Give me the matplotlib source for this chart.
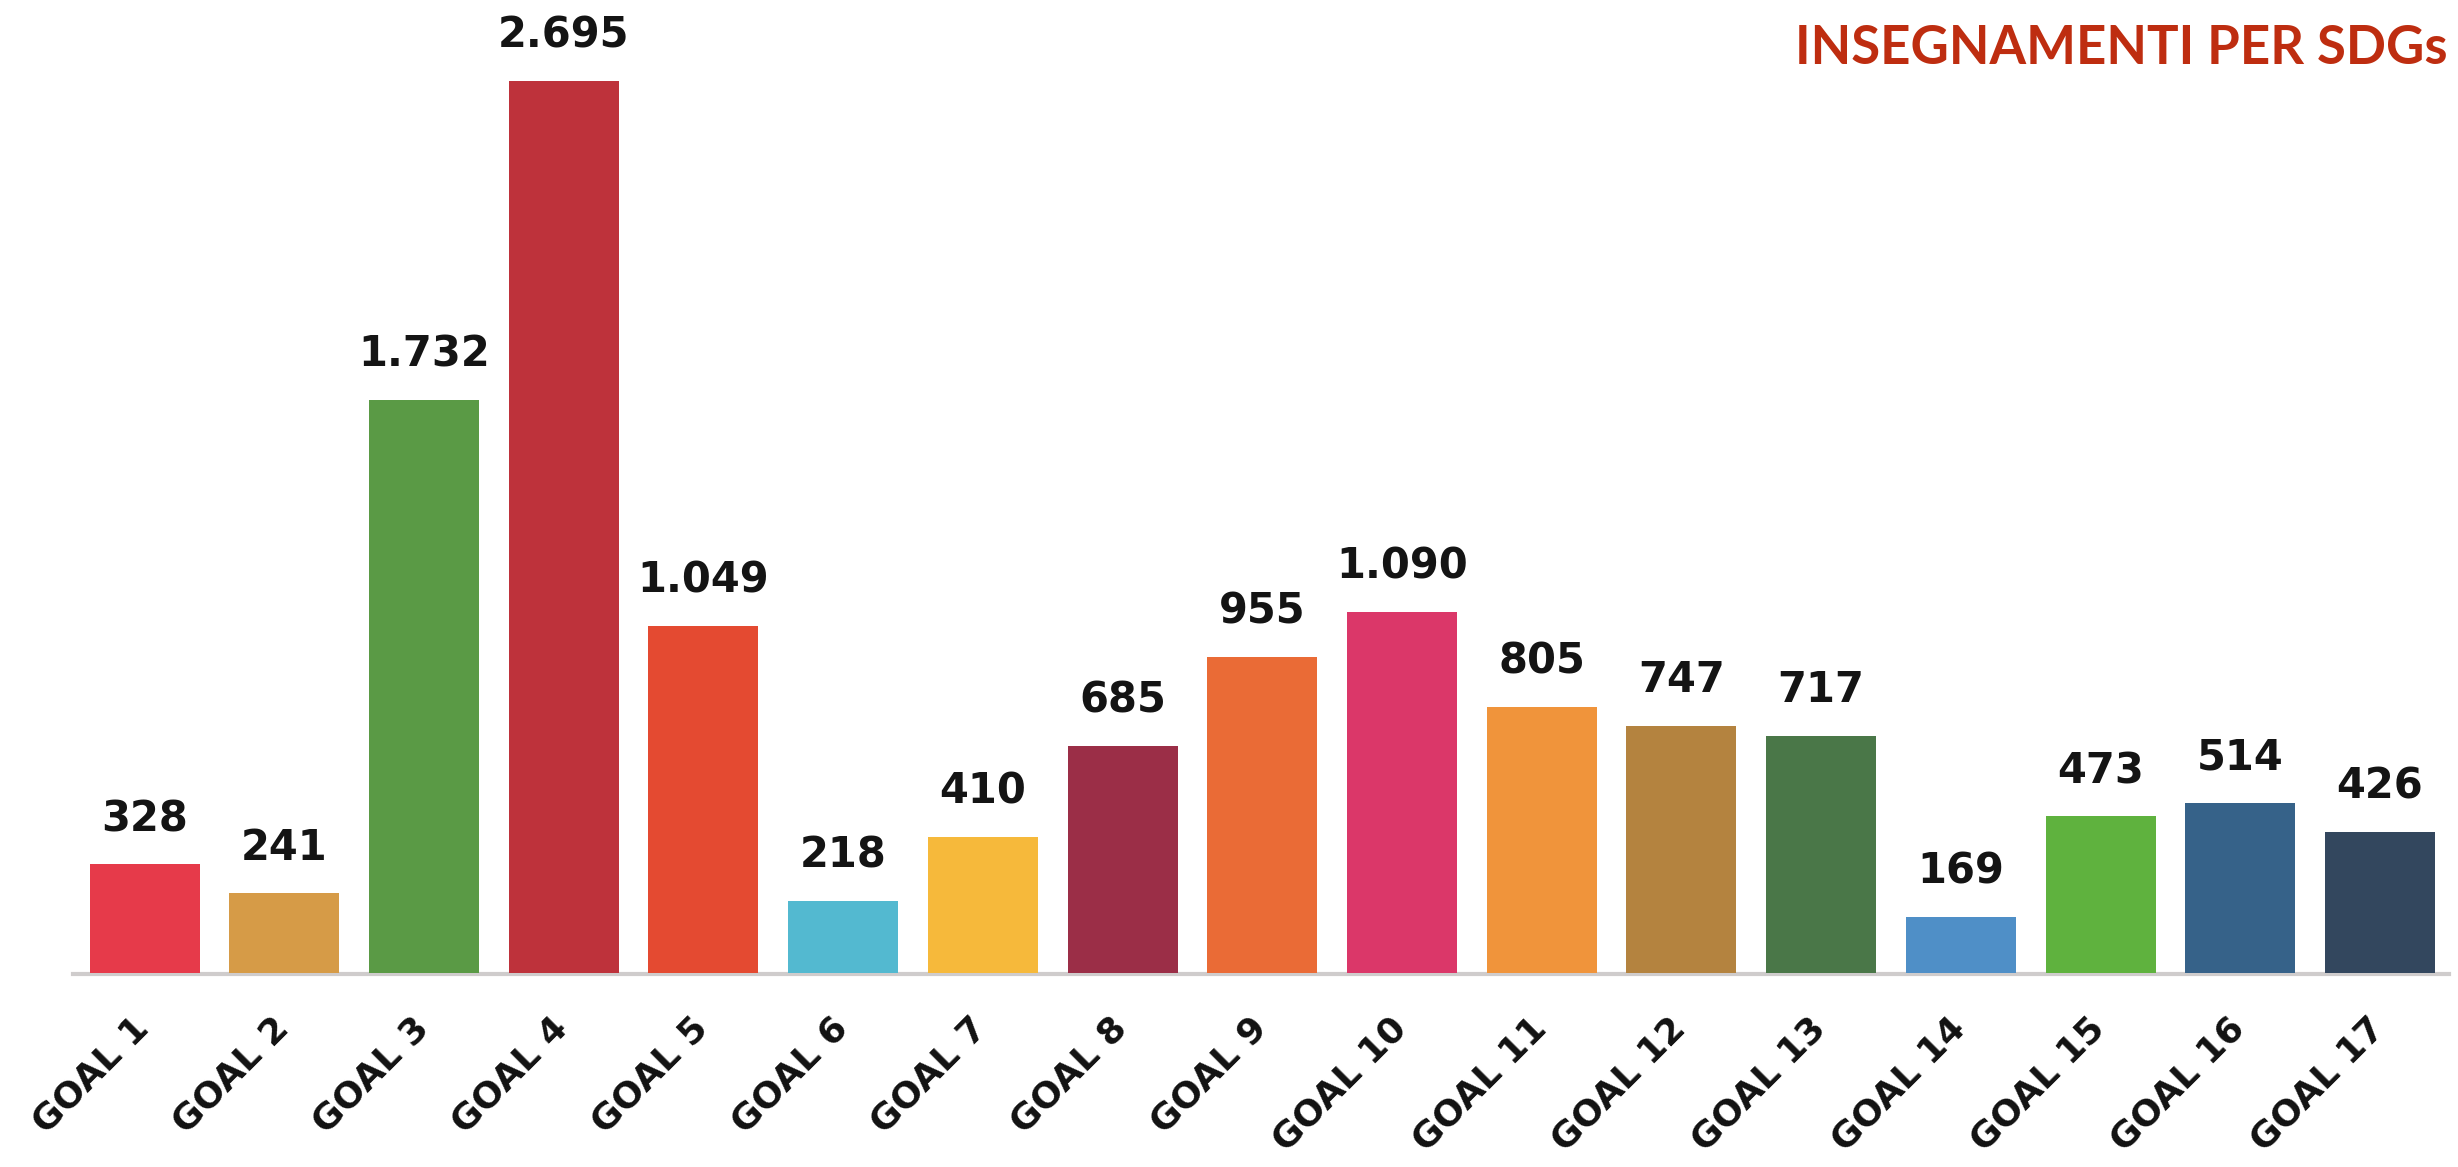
import matplotlib
matplotlib.use("Agg")
import matplotlib.pyplot as plt
import matplotlib.transforms as mtransforms

# Insegnamenti per SDG (numero di insegnamenti per goal)
goals = ["GOAL 1", "GOAL 2", "GOAL 3", "GOAL 4", "GOAL 5", "GOAL 6", "GOAL 7", "GOAL 8", "GOAL 9",
         "GOAL 10", "GOAL 11", "GOAL 12", "GOAL 13", "GOAL 14", "GOAL 15", "GOAL 16", "GOAL 17"]
values = [328, 241, 1732, 2695, 1049, 218, 410, 685, 955, 1090, 805, 747, 717, 169, 473, 514, 426]
colors = ["#E63A4A", "#D69B47", "#5A9A45", "#BE323B", "#E44A31", "#53B9D0", "#F6B93B", "#9B2E47",
          "#EA6B36", "#DB3769", "#F0943B", "#B4833F", "#4A7748", "#4F8FC7", "#5FB23E", "#366289", "#33475E"]
title = "INSEGNAMENTI PER SDGs"


def fmt_it(v):
    # separatore delle migliaia con il punto
    return f"{v:,}".replace(",", ".")


W, H = 2458, 1167
fig = plt.figure(figsize=(W / 100, H / 100), dpi=100)
ax = fig.add_axes([73 / W, 194 / H, 2376 / W, 973 / H])

x = list(range(len(goals)))
ax.bar(x, values, width=0.787, color=colors, zorder=3)

for xi, v in zip(x, values):
    ax.annotate(fmt_it(v), (xi, v), xytext=(0, 24), textcoords="offset points",
                ha="center", va="baseline", fontsize=30, fontweight="bold", color="#141414")

ax.set_xlim(-0.512, 16.494)
ax.set_ylim(0, 2940)

for s in ["top", "right", "left"]:
    ax.spines[s].set_visible(False)
ax.spines["bottom"].set_color("#cfcccc")
ax.spines["bottom"].set_linewidth(3)
ax.spines["bottom"].set_position(("outward", 1))
ax.set_yticks([])

ax.set_xticks(x)
ax.set_xticklabels(goals, fontsize=26, fontweight="bold", color="#111111")
ax.tick_params(axis="x", length=0, pad=40)
shift = mtransforms.ScaledTranslation(6 / 100, 0, fig.dpi_scale_trans)
for lbl in ax.get_xticklabels():
    lbl.set_rotation(45)
    lbl.set_rotation_mode("anchor")
    lbl.set_ha("right")
    lbl.set_va("baseline")
    lbl.set_transform(lbl.get_transform() + shift)

# titolo in alto a destra, ridotto finché sta nella figura
t = fig.text(1795 / W, 1 - 64 / H, title, ha="left", va="baseline",
             fontsize=40, fontweight="bold", color="#BE2D10", family=["Lato", "DejaVu Sans"])
renderer = fig.canvas.get_renderer()
size = 40
while t.get_window_extent(renderer).x1 > W - 4 and size > 20:
    size -= 0.5
    t.set_fontsize(size)

fig.savefig("out.png", dpi=100, facecolor="white")
